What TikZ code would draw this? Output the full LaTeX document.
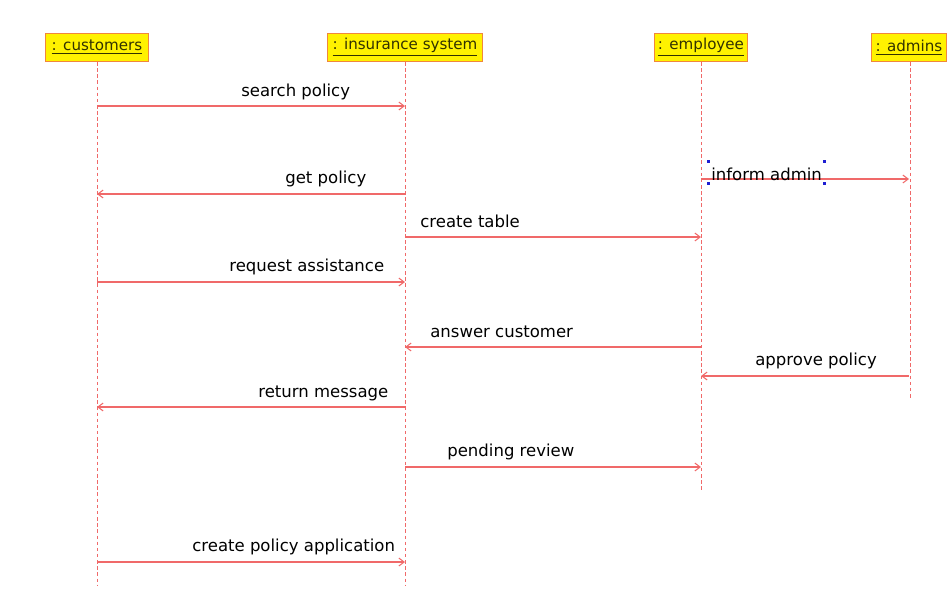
\documentclass[tikz,border=0pt]{standalone}
\usepackage{fontspec}
\setmainfont{DejaVu Sans}
\usetikzlibrary{arrows.meta}
\definecolor{msgred}{RGB}{240,105,105}
\definecolor{boxedge}{RGB}{240,135,60}
\definecolor{boxtext}{RGB}{50,50,0}
\definecolor{handle}{RGB}{30,30,210}
\tikzset{
  obj/.style={draw=boxedge, fill=yellow, line width=0.9pt, minimum height=16pt,
    inner sep=0pt, font=\fontsize{8.6}{10}\selectfont, text=boxtext},
  life/.style={draw=msgred, dash pattern=on 2pt off 1.5pt, line width=0.5pt},
  msg/.style={draw=msgred, line width=0.6pt, -{Straight Barb[length=3pt,width=4.5pt]}},
  lbl/.style={font=\fontsize{9.4}{11}\selectfont, inner sep=0pt, anchor=west}
}
\begin{document}
\begin{tikzpicture}[x=0.02cm, y=-0.02cm]
  \useasboundingbox (0,0) rectangle (948,592);
  % lifelines
  \coordinate (custend) at (97,585);
  \coordinate (insend) at (405,585);
  \coordinate (empend) at (701,490);
  \coordinate (admend) at (910,400);
  \draw[life] (97,62) -- (custend);
  \draw[life] (405,62) -- (insend);
  \draw[life] (701,62) -- (empend);
  \draw[life] (910,62) -- (admend);
  % objects
  \node[obj, minimum width=2.06cm] (cust) at (97,47.5) {\underline{: customers}};
  \node[obj, minimum width=3.1cm] (ins) at (405,47.5) {\underline{: insurance system}};
  \node[obj, minimum width=1.86cm] (emp) at (701,47.5) {\underline{: employee}};
  \node[obj, minimum width=1.5cm] (adm) at (909,47.5) {\underline{: admins}};
  % messages
  \draw[msg] (cust |- 0,106) -- (ins |- 0,106);
  \node[lbl] (m1) at (241,92) {search policy};
  \draw[msg] (ins |- 0,194) -- (cust |- 0,194);
  \node[lbl] (m2) at (285,179) {get policy};
  \draw[msg] (emp |- 0,179) -- (adm |- 0,179);
  \node[lbl] (m3) at (711,174) {inform admin};
  \fill[handle] (707,160) rectangle ++(3,3);
  \fill[handle] (823,160) rectangle ++(3,3);
  \fill[handle] (707,182) rectangle ++(3,3);
  \fill[handle] (823,182) rectangle ++(3,3);
  \draw[msg] (ins |- 0,237) -- (emp |- 0,237);
  \node[lbl] (m4) at (420,221) {create table};
  \draw[msg] (cust |- 0,282) -- (ins |- 0,282);
  \node[lbl] (m5) at (229,267) {request assistance};
  \draw[msg] (emp |- 0,347) -- (ins |- 0,347);
  \node[lbl] (m6) at (430,332) {answer customer};
  \draw[msg] (adm |- 0,376) -- (emp |- 0,376);
  \node[lbl] (m7) at (755,361) {approve policy};
  \draw[msg] (ins |- 0,407) -- (cust |- 0,407);
  \node[lbl] (m8) at (258,393) {return message};
  \draw[msg] (ins |- 0,467) -- (emp |- 0,467);
  \node[lbl] (m9) at (447,452) {pending review};
  \draw[msg] (cust |- 0,562) -- (ins |- 0,562);
  \node[lbl] (m10) at (192,547) {create policy application};
\end{tikzpicture}
\end{document}
